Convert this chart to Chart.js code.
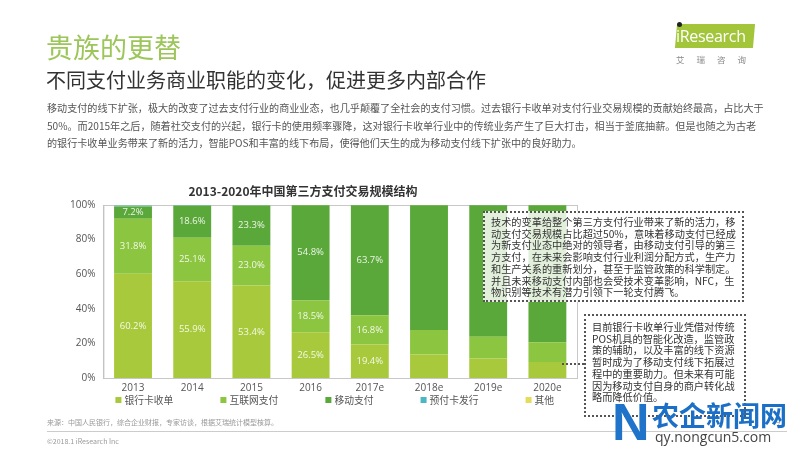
<!DOCTYPE html>
<html>
<head>
<meta charset="utf-8">
<script src="https://cdn.jsdelivr.net/npm/chart.js@4.4.1/dist/chart.umd.min.js"></script>
<style>
  body { margin:0; width:800px; height:450px; overflow:hidden; background:#fff; position:relative;
         font-family:"Noto Sans CJK SC","Open Sans",sans-serif; }
  #barChart { position:absolute; left:0; top:0; }
  .abs { position:absolute; white-space:nowrap; }
  #head { left:46px; top:30px; font-size:27px; color:#9cc65a; line-height:34px; }
  #sub { left:46px; top:66px; font-size:20px; color:#333; line-height:28px; }
  #para { left:47px; top:99px; font-size:10.1px; color:#555; line-height:17.5px; }
  #ctitle { left:303px; top:182px; transform:translateX(-50%); font-size:12px; font-weight:bold; color:#333; }
  .note { position:absolute; border:2px dotted #555; background:rgba(255,255,255,0.82); color:#333;
          font-size:10.2px; line-height:11.7px; padding:3px 6px; white-space:nowrap; box-sizing:border-box; z-index:2; }
  #note1 { left:483px; top:211px; width:261px; height:91px; }
  #note2 { left:584px; top:314px; width:162px; height:103px; padding-top:5px; }
  #link { position:absolute; left:562px; top:363px; width:22px; border-top:2px dotted #555; }
  #src { left:47px; top:417px; font-size:7px; color:#999; }
  #rule { position:absolute; left:47px; top:431px; width:740px; border-top:1px solid #ccc; }
  #copy { left:47px; top:436px; font-size:7px; color:#999; }
  #logoBg { position:absolute; left:676px; top:24px; width:78px; height:24px; background-color:#a3c53a;
            transform:skewX(-5deg); z-index:4; }
  #logoTxt { position:absolute; left:676px; top:24px; font-family:"Open Sans",sans-serif; font-size:16px;
             color:#ffffff; line-height:24px; letter-spacing:-0.3px; white-space:nowrap; z-index:5; }
  #logoDot { position:absolute; left:677px; top:22px; width:5px; height:5px; border-radius:50%; background:#222; z-index:6; }
  #logoCn { left:676px; top:53px; font-size:8.5px; color:#888; letter-spacing:12px; }
  #page { left:776px; top:419px; font-size:8px; color:#aaa; }
  #wmIcon { left:612px; top:396px; font-family:"Liberation Sans",sans-serif; font-weight:bold; font-size:52px; color:#1f74c9; line-height:52px; z-index:3; }
  #wmCn { left:652px; top:400px; font-size:27px; font-weight:bold; color:#1c6fc6; line-height:30px; z-index:3; }
  #wmUrl { left:655px; top:428px; font-family:"Open Sans",sans-serif; font-size:14px; color:#444; line-height:18px; z-index:3; }
</style>
</head>
<body>
<canvas id="barChart" width="800" height="450"></canvas>

<div id="head" class="abs">贵族的更替</div>
<div id="sub" class="abs">不同支付业务商业职能的变化，促进更多内部合作</div>
<div id="para" class="abs">移动支付的线下扩张，极大的改变了过去支付行业的商业业态，也几乎颠覆了全社会的支付习惯。过去银行卡收单对支付行业交易规模的贡献始终最高，占比大于<br>50%。而2015年之后，随着社交支付的兴起，银行卡的使用频率骤降，这对银行卡收单行业中的传统业务产生了巨大打击，相当于釜底抽薪。但是也随之为古老<br>的银行卡收单业务带来了新的活力，智能POS和丰富的线下布局，使得他们天生的成为移动支付线下扩张中的良好助力。</div>

<div id="ctitle" class="abs">2013-2020年中国第三方支付交易规模结构</div>

<div id="note1" class="note">技术的变革给整个第三方支付行业带来了新的活力，移<br>动支付交易规模占比超过50%，意味着移动支付已经成<br>为新支付业态中绝对的领导者，由移动支付引导的第三<br>方支付，在未来会影响支付行业利润分配方式，生产力<br>和生产关系的重新划分，甚至于监管政策的科学制定。<br>并且未来移动支付内部也会受技术变革影响，NFC，生<br>物识别等技术有潜力引领下一轮支付腾飞。</div>
<div id="link"></div>
<div id="note2" class="note">目前银行卡收单行业凭借对传统<br>POS机具的智能化改造，监管政<br>策的辅助，以及丰富的线下资源<br>暂时成为了移动支付线下拓展过<br>程中的重要助力。但未来有可能<br>因为移动支付自身的商户转化战<br>略而降低价值。</div>

<div id="src" class="abs">来源：中国人民银行，综合企业财报，专家访谈，根据艾瑞统计模型核算。</div>
<div id="rule"></div>
<div id="copy" class="abs">©2018.1 iResearch Inc</div>
<div id="page" class="abs">7</div>

<div id="logoBg"></div>
<div id="logoTxt">iResearch</div>
<div id="logoDot"></div>
<div id="logoCn" class="abs">艾瑞咨询</div>

<div id="wmIcon" class="abs">N</div>
<div id="wmCn" class="abs">农企新闻网</div>
<div id="wmUrl" class="abs">qy.nongcun5.com</div>

<script>
    var years = ["2013", "2014", "2015", "2016", "2017e", "2018e", "2019e", "2020e"];
    var bankCard = [60.2, 55.9, 53.4, 26.5, 19.4, 13.6, 11.2, 9.2];
    var internetPay = [31.8, 25.1, 23.0, 18.5, 16.8, 14.2, 12.7, 11.4];
    var mobilePay = [7.2, 18.6, 23.3, 54.8, 63.7, 72.0, 76.0, 79.2];
    var prepaidCard = [0.5, 0.2, 0.2, 0.1, 0.1, 0.1, 0.05, 0.1];
    var others = [0.3, 0.2, 0.1, 0.1, 0.0, 0.1, 0.05, 0.1];
    var seriesNames = ["银行卡收单", "互联网支付", "移动支付", "预付卡发行", "其他"];
    var seriesColors = ["#a8c93b", "#8cc540", "#5ba83a", "#4db6c4", "#e4dd5c"];
    var yTicks = [0, 20, 40, 60, 80, 100];
    var labeledYears = 5; // value labels only on the actual years

    // light frame round the plot, drawn under the bars
    var plotFrame = {
        id: 'plotFrame',
        beforeDatasetsDraw: function (chart) {
            var a = chart.chartArea, ctx = chart.ctx;
            ctx.save();
            ctx.strokeStyle = '#c8c8c8';
            ctx.lineWidth = 1;
            ctx.strokeRect(a.left + 0.5, a.top + 0.5, a.right - a.left, a.bottom - a.top);
            ctx.restore();
        }
    };

    var valueLabels = {
        id: 'valueLabels',
        afterDatasetsDraw: function (chart) {
            var ctx = chart.ctx;
            ctx.save();
            ctx.font = '9.5px "Open Sans"';
            ctx.fillStyle = 'rgba(255,255,255,0.88)';
            ctx.textAlign = 'center';
            ctx.textBaseline = 'middle';
            for (var d = 0; d < 3; d++) {
                var meta = chart.getDatasetMeta(d);
                meta.data.forEach(function (bar, i) {
                    if (i >= labeledYears) return;
                    var v = chart.data.datasets[d].data[i];
                    ctx.fillText(v.toFixed(1) + '%', bar.x, (bar.y + bar.base) / 2);
                });
            }
            ctx.restore();
        }
    };

    // legend row under the axis, spaced like the slide
    var bottomLegend = {
        id: 'bottomLegend',
        afterDraw: function (chart) {
            var ctx = chart.ctx, a = chart.chartArea;
            var x = a.left + 12, y = a.bottom + 22;
            ctx.save();
            ctx.font = '9.8px "Noto Sans CJK SC"';
            ctx.textBaseline = 'middle';
            chart.data.datasets.forEach(function (ds) {
                ctx.fillStyle = ds.backgroundColor;
                ctx.fillRect(x, y - 3, 6, 6);
                ctx.fillStyle = '#555';
                ctx.fillText(ds.label, x + 9, y);
                x += 9 + ctx.measureText(ds.label).width + 47;
            });
            ctx.restore();
        }
    };

    var allSeries = [bankCard, internetPay, mobilePay, prepaidCard, others];
    var ctxB = document.getElementById("barChart").getContext('2d');
    var myBarChart = new Chart(ctxB, {
        type: 'bar',
        data: {
            labels: years,
            datasets: allSeries.map(function (vals, i) {
                return {
                    label: seriesNames[i],
                    data: vals,
                    backgroundColor: seriesColors[i],
                    borderWidth: 0,
                    categoryPercentage: 1,
                    barPercentage: 0.64
                };
            })
        },
        options: {
            responsive: false,
            animation: false,
            layout: { padding: { left: 62, right: 223, top: 205, bottom: 52 } },
            plugins: {
                legend: { display: false },
                tooltip: { enabled: false }
            },
            scales: {
                x: {
                    stacked: true,
                    grid: { display: false, drawTicks: false },
                    border: { display: true, color: '#bbb' },
                    ticks: { color: '#555', font: { size: 10, family: 'Open Sans' }, padding: 4 }
                },
                y: {
                    stacked: true,
                    min: 0,
                    max: 100,
                    afterBuildTicks: function (axis) {
                        axis.ticks = yTicks.map(function (v) { return { value: v }; });
                    },
                    grid: { display: false, drawTicks: false },
                    border: { display: true, color: '#bbb' },
                    ticks: {
                        color: '#555',
                        font: { size: 10, family: 'Open Sans' },
                        padding: 8,
                        callback: function (v) { return v + '%'; }
                    }
                }
            }
        },
        plugins: [plotFrame, valueLabels, bottomLegend]
    });
</script>
</body>
</html>
